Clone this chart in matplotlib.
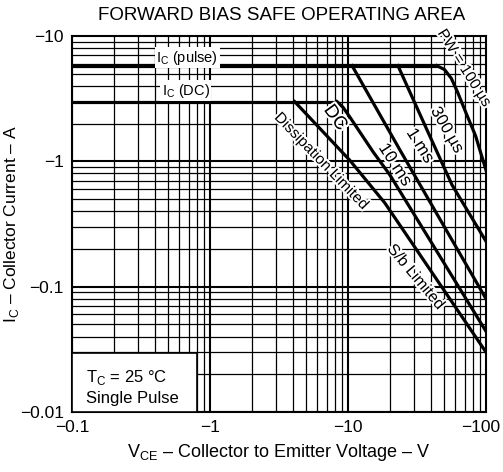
import matplotlib
matplotlib.use("Agg")
import matplotlib.pyplot as plt
import matplotlib.patheffects as pe
from matplotlib.patches import Rectangle
from matplotlib.transforms import offset_copy

plt.rcParams['font.family'] = ['Liberation Sans', 'DejaVu Sans']
plt.rcParams['mathtext.fontset'] = 'custom'
plt.rcParams['mathtext.rm'] = 'Liberation Sans'

# ---- data ----
ic_pulse = 5.8
ic_dc = 3.0
x_pulse_end = 44.0
x_dcline_end = 8.3

x_dc = [4.1, 10.3, 18.5, 100]
y_dc = [3.0, 1.02, 0.465, 0.030]
x_10ms = [8.3, 9.2, 10.3, 15.2, 20.1, 100]
y_10ms = [3.0, 2.7, 2.26, 1.19, 0.78, 0.044]
x_1ms = [10.7, 23.8, 100]
y_1ms = [5.8, 1.23, 0.08]
x_300us = [23.0, 38.0, 56.8, 100]
y_300us = [5.8, 1.71, 0.647, 0.23]
x_100us = [44.0, 50.0, 56.0, 62.0, 72.0, 84.0, 100]
y_100us = [5.8, 5.4, 4.6, 3.6, 2.4, 1.6, 0.85]

xticks = [0.1, 1, 10, 100]
xticklabels = ['\u22120.1', '\u22121', '\u221210', '\u2212100']
yticks = [0.01, 0.1, 1, 10]
yticklabels = ['\u22120.01', '\u22120.1', '\u22121', '\u221210']

fig = plt.figure(figsize=(5.03, 4.72), dpi=100)
ax = fig.add_axes([72/503, 1-412/472, 414/503, 376/472])
ax.set_xscale('log')
ax.set_yscale('log')
ax.set_xlim(0.1, 100)
ax.set_ylim(0.01, 10)

# grid
for dec in [0.1, 1, 10]:
    for m in range(1, 10):
        ax.axvline(dec*m, color='black', lw=1.5 if m == 1 else 0.9, zorder=1)
for dec in [0.01, 0.1, 1]:
    for m in range(1, 10):
        ax.axhline(dec*m, color='black', lw=1.5 if m == 1 else 0.9, zorder=1)

lw = 2.3
ax.plot([0.1, x_pulse_end], [ic_pulse, ic_pulse], color='black', lw=lw, zorder=3)
ax.plot([0.1, x_dcline_end], [ic_dc, ic_dc], color='black', lw=lw, zorder=3)
for xs, ys in [(x_dc, y_dc), (x_10ms, y_10ms), (x_1ms, y_1ms), (x_300us, y_300us), (x_100us, y_100us)]:
    ax.plot(xs, ys, color='black', lw=lw, zorder=3, solid_joinstyle='round')

ax.set_xticks(xticks)
ax.set_xticklabels(xticklabels)
ax.set_yticks(yticks)
ax.set_yticklabels(yticklabels)
ax.xaxis.set_minor_locator(matplotlib.ticker.NullLocator())
ax.yaxis.set_minor_locator(matplotlib.ticker.NullLocator())
ax.tick_params(length=0, labelsize=12.5, pad=6)
for s in ax.spines.values():
    s.set_linewidth(1.5)
xtl = ax.get_xticklabels()
xtl[-1].set_horizontalalignment('right')
xtl[-1].set_transform(offset_copy(xtl[-1].get_transform(), fig=fig, x=14, units='dots'))

ax.set_xlabel('V$_{\\mathregular{CE}}$ \u2013 Collector to Emitter Voltage \u2013 V', fontsize=13, labelpad=5)
ax.set_ylabel('I$_{\\mathregular{C}}$ \u2013 Collector Current \u2013 A', fontsize=12.5)
ax.yaxis.set_label_coords((21-72)/414, 0.5)
fig.text((72+486)/2/503 + 0.005, 1-15/472, 'FORWARD BIAS SAFE OPERATING AREA', ha='center', va='center', fontsize=13.5)

halo = [pe.withStroke(linewidth=3, foreground='white')]
wb = dict(facecolor='white', edgecolor='none', pad=1.0)
ax.text(0.278, 0.942, 'I$_{\\mathregular{C}}$ (pulse)', transform=ax.transAxes, ha='center', va='center', fontsize=10.5, bbox=wb, zorder=4)
ax.text(0.275, 0.854, 'I$_{\\mathregular{C}}$ (DC)', transform=ax.transAxes, ha='center', va='center', fontsize=10.5, bbox=wb, zorder=4)

def lab(px, py, s, rot, fs=12):
    ax.text((px-72)/414, (412-py)/376, s, transform=ax.transAxes, rotation=rot,
            ha='center', va='center', fontsize=fs, path_effects=halo, zorder=5,
            rotation_mode='anchor')

lab(464, 68, 'PW = 100 \u00b5s', -58, 11)
lab(447, 130, '300 \u00b5s', -60, 12)
lab(420, 146, '1 ms', -58, 12.5)
lab(395, 165, '10 ms', -57, 12.5)
lab(335, 118, 'DC', -54, 13.5)
lab(321, 161, 'Dissipation Limited', -46, 11)
lab(416, 277, 'S/b Limited', -50, 11.5)

ax.add_patch(Rectangle((0, 0), 0.302, 0.157, transform=ax.transAxes, facecolor='white',
                       edgecolor='black', lw=1.2, zorder=4))
ax.text(0.034, 0.093, 'T$_{\\mathregular{C}}$ = 25 \u00b0C', transform=ax.transAxes, ha='left', va='center', fontsize=12, zorder=5)
ax.text(0.034, 0.037, 'Single Pulse', transform=ax.transAxes, ha='left', va='center', fontsize=12, zorder=5)

fig.savefig('out.png', dpi=100)
